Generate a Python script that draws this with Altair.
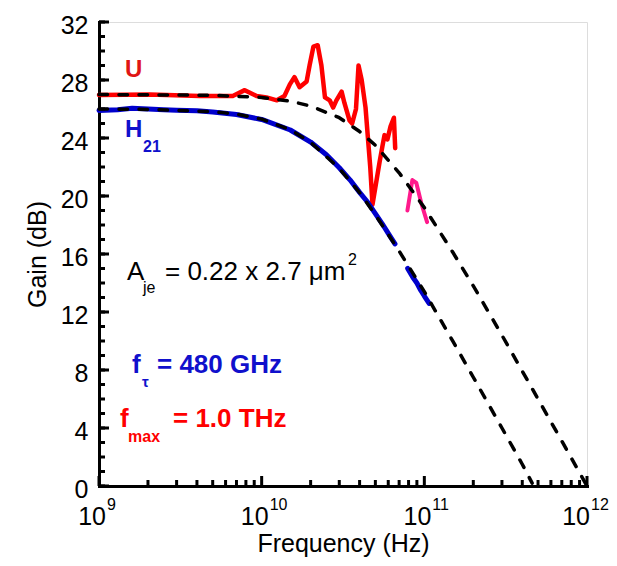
import altair as alt
import pandas as pd

# ---- measured U (red) ----
U_FREQ = [1e9, 2.05e9, 4.17e9, 6.64e9, 7.87e9, 9.31e9, 1.07e10, 1.24e10, 1.38e10, 1.49e10,
          1.59e10, 1.71e10, 1.89e10, 1.97e10, 2.08e10, 2.21e10, 2.33e10, 2.45e10, 2.62e10,
          2.75e10, 2.88e10, 3.10e10, 3.23e10, 3.47e10, 3.60e10, 3.80e10, 3.94e10, 4.12e10,
          4.35e10, 4.50e10, 4.65e10, 4.80e10, 5.00e10, 5.30e10, 5.52e10, 5.69e10, 5.93e10,
          6.20e10, 6.50e10, 6.62e10]
U_GAIN = [26.97, 27.0, 26.9, 26.9, 27.3, 26.9, 26.8, 26.6, 26.9, 27.7,
          28.2, 27.5, 27.9, 29.0, 30.3, 30.4, 29.0, 26.8, 26.6,
          26.1, 26.6, 27.2, 26.4, 25.2, 25.0, 26.0, 29.0, 28.0,
          26.1, 24.0, 22.0, 19.4, 20.6, 22.3, 23.4, 24.2, 23.9,
          24.8, 25.4, 23.3]

# ---- measured U, last band (pink) ----
P_FREQ = [7.87e10, 8.44e10, 8.93e10, 9.58e10, 1.04e11]
P_GAIN = [19.0, 21.1, 20.9, 19.5, 18.2]

# ---- measured H21 (blue) ----
H1_FREQ = [1e9, 1.3e9, 1.6e9, 2.0e9, 2.5e9, 3e9, 4e9, 5e9, 7e9, 1e10, 1.5e10, 2e10, 2.5e10,
           3e10, 3.5e10, 4e10, 4.5e10, 5e10, 5.5e10, 6e10, 6.6e10]
H1_GAIN = [25.9, 25.95, 26.05, 26.0, 25.95, 25.92, 25.88, 25.8, 25.62, 25.28, 24.55, 23.72,
           22.85, 21.95, 21.1, 20.25, 19.55, 18.78, 18.1, 17.42, 16.7]
H2_FREQ = [7.9e10, 8.5e10, 9.0e10, 9.5e10, 1.0e11, 1.07e11]
H2_GAIN = [15.0, 14.4, 14.0, 13.5, 13.1, 12.6]

# ---- model fits (dashed) ----
HM_FREQ = [1e9, 2e9, 5e9, 7e9, 1e10, 1.5e10, 2e10, 3e10, 4e10, 5e10, 7e10, 1e11, 1.5e11,
           2e11, 3e11, 4e11, 4.6e11]
HM_GAIN = [26.0, 25.97, 25.82, 25.65, 25.3, 24.57, 23.7, 21.9, 20.23, 18.7, 16.2, 13.4, 9.97,
           7.5, 4.0, 1.5, 0.2]
UM_FREQ = [1e9, 5e9, 1e10, 1.5e10, 2e10, 3e10, 4e10, 5e10, 7e10, 1e11, 1.5e11, 2e11, 3e11,
           5e11, 7e11, 1e12]
UM_GAIN = [27.0, 26.95, 26.8, 26.54, 26.2, 25.4, 24.45, 23.5, 21.6, 19.2, 16.1, 13.8, 10.4,
           6.0, 3.1, 0.0]

# ---- axes ----
Y_MAJOR = [0, 4, 8, 12, 16, 20, 24, 28, 32]
Y_MINOR = list(range(0, 33))
X_DECADES = [1e9, 1e10, 1e11, 1e12]
X_EXPONENTS = ["9", "10", "11", "12"]
X_MINOR = [m * d for d in [1e9, 1e10, 1e11] for m in range(2, 10)]

FONT = "Liberation Sans"
W, H = 488, 464

xscale = alt.Scale(type="log", domain=[1e9, 1e12], nice=False)
yscale = alt.Scale(domain=[0, 32], nice=False, zero=False)
xaxis = alt.Axis(labels=False, ticks=False, grid=False, domainWidth=3, domainColor="black",
                 domainCap="square", title="Frequency (Hz)", titleFontSize=25, titleFont=FONT,
                 titleFontWeight="normal", titleColor="black", titleY=65,
                 titleBaseline="alphabetic", values=X_DECADES)
yaxis = alt.Axis(values=Y_MAJOR, ticks=False, grid=False, domainWidth=3, domainColor="black",
                 domainCap="square", labelFontSize=25, labelFont=FONT, labelColor="black",
                 labelPadding=11, labelOffset=3, title="Gain (dB)", titleFontSize=25,
                 titleFont=FONT, titleFontWeight="normal", titleColor="black",
                 titleX=-54, titleY=H / 2, titleBaseline="alphabetic", titleAngle=270)


def X(field="f"):
    return alt.X(f"{field}:Q", scale=xscale, axis=xaxis)


def Y(field="g"):
    return alt.Y(f"{field}:Q", scale=yscale, axis=yaxis)


def line(freq, gain, color, width, dash=None):
    df = pd.DataFrame({"f": freq, "g": gain})
    kw = dict(color=color, strokeWidth=width, strokeJoin="round", strokeCap="round")
    if dash:
        kw.update(strokeDash=dash)
    return alt.Chart(df).mark_line(**kw).encode(x=X(), y=Y())


layers = [
    line(U_FREQ, U_GAIN, "#ff0000", 4.5),
    line(P_FREQ, P_GAIN, "#ff1a8c", 4),
    line(H1_FREQ, H1_GAIN, "#0000cc", 5),
    line(H2_FREQ, H2_GAIN, "#0000cc", 5),
    line(HM_FREQ, HM_GAIN, "black", 3.5, [8.5, 11.5]),
    line(UM_FREQ, UM_GAIN, "black", 3.5, [8.5, 11.5]),
]

# inward ticks
ymaj = pd.DataFrame({"g": Y_MAJOR})
ymin = pd.DataFrame({"g": Y_MINOR})
xmaj = pd.DataFrame({"f": X_DECADES})
xmin = pd.DataFrame({"f": X_MINOR})
layers += [
    alt.Chart(ymin).mark_rule(color="black", strokeWidth=3).encode(
        y=Y(), x=alt.value(0), x2=alt.value(6)),
    alt.Chart(ymaj).mark_rule(color="black", strokeWidth=3).encode(
        y=Y(), x=alt.value(0), x2=alt.value(10)),
    alt.Chart(xmin).mark_rule(color="black", strokeWidth=3).encode(
        x=X(), y=alt.value(H), y2=alt.value(H - 6)),
    alt.Chart(xmaj).mark_rule(color="black", strokeWidth=3).encode(
        x=X(), y=alt.value(H), y2=alt.value(H - 10)),
]

# x tick labels 10^n
xlab = pd.DataFrame({"f": X_DECADES, "e": X_EXPONENTS, "b": ["10"] * 4})
for flt, dxb, dxe in [("datum.f < 5e11", 7, 8), ("datum.f > 5e11", 3, 4)]:
    layers += [
        alt.Chart(xlab).transform_filter(flt).mark_text(
            align="right", baseline="alphabetic", fontSize=25, font=FONT, color="black", dx=dxb
        ).encode(x=X(), y=alt.value(H + 39), text="b:N"),
        alt.Chart(xlab).transform_filter(flt).mark_text(
            align="left", baseline="alphabetic", fontSize=16, font=FONT, color="black", dx=dxe
        ).encode(x=X(), y=alt.value(H + 24), text="e:N"),
    ]

# annotations
one = pd.DataFrame({"k": [0]})


def note(text, px, py, size, color, weight="normal"):
    return alt.Chart(one).mark_text(
        text=text, align="left", baseline="alphabetic", fontSize=size, font=FONT,
        color=color, fontWeight=weight
    ).encode(x=alt.value(px), y=alt.value(py))


RED_T = "#e01515"
BLUE_T = "#1010cc"
layers += [
    note("U", 26, 55, 24, RED_T, "bold"),
    note("H", 26, 115, 24, BLUE_T, "bold"),
    note("21", 44, 130, 16, BLUE_T, "bold"),
    note("A", 28, 258, 26, "black"),
    note("je", 44, 271, 16, "black"),
    note("= 0.22 x 2.7 \u03bcm", 66, 258, 26, "black"),
    note("2", 249, 243, 16, "black"),
    note("f", 33, 351, 26, BLUE_T, "bold"),
    note("\u03c4", 43, 365, 15, BLUE_T, "bold"),
    note("= 480 GHz", 58, 351, 26, BLUE_T, "bold"),
    note("f", 21, 405, 26, "#ff0000", "bold"),
    note("max", 29, 420, 16, "#ff0000", "bold"),
    note("= 1.0 THz", 74, 405, 26, "#ff0000", "bold"),
]

chart = alt.layer(*layers).properties(
    width=W, height=H,
    autosize=alt.AutoSizeParams(type="none"),
    padding={"left": 91, "top": 14, "right": 22, "bottom": 72},
).configure_view(stroke=None).configure(background="white")

chart.save("out.html", embed_options={"renderer": "svg", "actions": False})
